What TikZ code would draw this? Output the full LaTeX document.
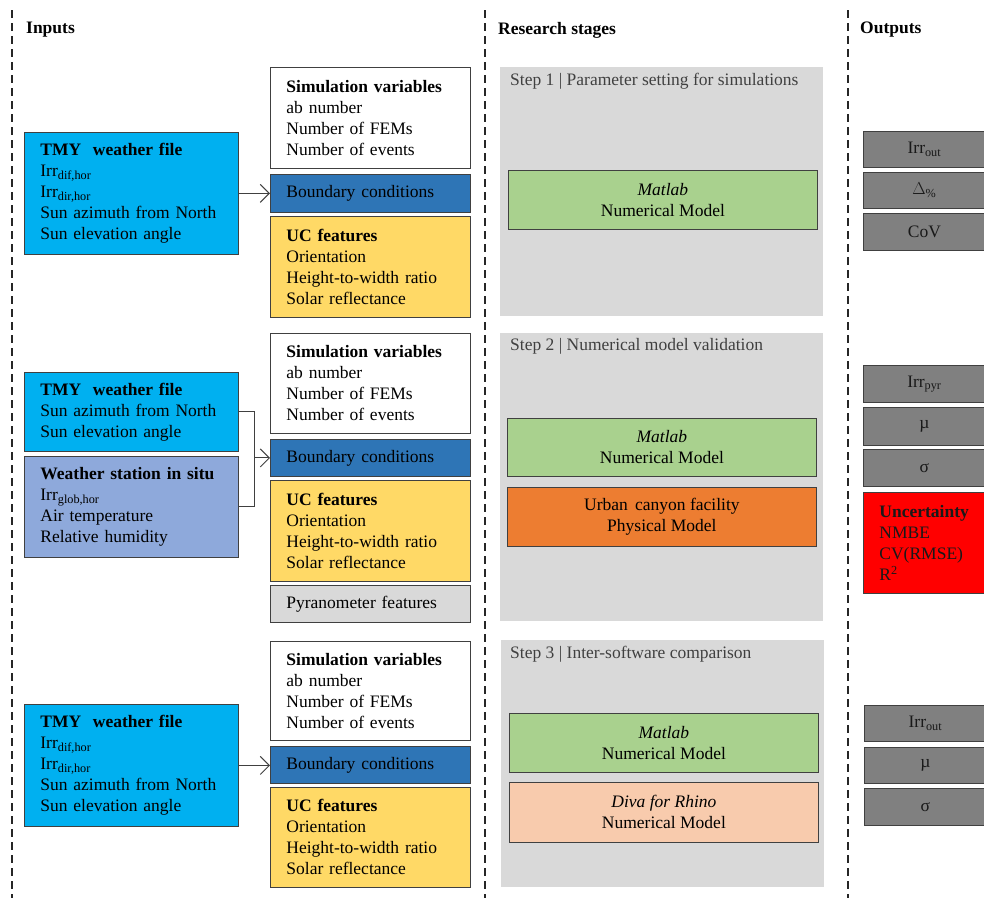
\documentclass[tikz,border=0pt]{standalone}
\usepackage{fontspec}
\setmainfont{Liberation Serif}
\usetikzlibrary{arrows.meta}
\definecolor{bordc}{HTML}{404040}
\definecolor{cyanbox}{HTML}{00B0F0}
\definecolor{bluebox}{HTML}{2E75B6}
\definecolor{yellowbox}{HTML}{FFD966}
\definecolor{lgray}{HTML}{D9D9D9}
\definecolor{wsblue}{HTML}{8EA9DB}
\definecolor{greenbox}{HTML}{A9D18E}
\definecolor{orangebox}{HTML}{ED7D31}
\definecolor{peachbox}{HTML}{F8CBAD}
\definecolor{outgray}{HTML}{808080}
\definecolor{redbox}{HTML}{FF0000}
\definecolor{steptext}{HTML}{404040}
\begin{document}
\begin{tikzpicture}[x=1pt,y=-1pt,
  every node/.style={font=\fontsize{17.5}{21}\selectfont},
  sep/.style={line width=2pt, dash pattern=on 8pt off 5pt, black!85},
  hdr/.style={anchor=west, inner sep=0pt, font=\fontsize{17.5}{21}\selectfont\bfseries},
  lbox/.style={draw=bordc, line width=0.8pt, anchor=north west, inner xsep=16pt, inner ysep=0pt, align=left, text width=168pt, minimum width=200pt},
  wbox/.style={lbox, text width=182pt, minimum width=214pt},
  stepbg/.style={fill=lgray, draw=none, anchor=north west, minimum width=323pt, inner sep=0pt},
  steplbl/.style={anchor=west, inner sep=0pt, text=steptext},
  cbox/.style={draw=bordc, line width=0.8pt, anchor=north west, align=center, inner sep=0pt, minimum width=309pt},
  obox/.style={draw=bordc, line width=0.8pt, fill=outgray, anchor=north west, align=center, inner sep=0pt, minimum width=122pt, text=black!90},
  arr/.style={draw=bordc, line width=0.9pt, -{Straight Barb[length=9pt,width=18pt,line width=1pt]}},
  conn/.style={draw=bordc, line width=0.9pt}
]
\useasboundingbox (0,0) rectangle (984,898);
\clip (0,0) rectangle (984,898);

% separators
\draw[sep] (12,10) -- (12,898);
\draw[sep] (485,10) -- (485,898);
\draw[sep] (848,10) -- (848,898);

% headers
\node[hdr] (hin) at (26,30) {Inputs};
\node[hdr] (hrs) at (498,30) {Research stages};
\node[hdr] (hout) at (860,30) {Outputs};

% ===== Section 1 =====
\node[wbox, fill=cyanbox, minimum height=122pt] (tmy1) at (24,132) {\textbf{TMY\,\, weather file}\\Irr\textsubscript{dif,hor}\\Irr\textsubscript{dir,hor}\\Sun azimuth from North\\Sun elevation angle};
\node[lbox, fill=white, minimum height=101pt] (sv1) at (270,67) {\textbf{Simulation variables}\\ab number\\Number of FEMs\\Number of events};
\node[lbox, fill=bluebox, minimum height=38pt] (bc1) at (270,174) {Boundary conditions};
\node[lbox, fill=yellowbox, minimum height=101pt] (uc1) at (270,216) {\textbf{UC features}\\Orientation\\Height-to-width ratio\\Solar reflectance};
\draw[arr] (tmy1.east) -- (tmy1.east -| bc1.west);

\node[stepbg, minimum height=249pt] (st1) at (500,67) {};
\node[steplbl] (st1l) at (510,81) {Step 1 | Parameter setting for simulations};
\node[cbox, fill=greenbox, minimum height=59pt] (ml1) at (508,170) {\textit{Matlab}\\Numerical Model};

\node[obox, minimum height=36pt] (o11) at (863,131) {Irr\textsubscript{out}};
\node[obox, minimum height=36pt] (o12) at (863,172) {$\Delta$\textsubscript{\%}};
\node[obox, minimum height=37pt] (o13) at (863,213) {CoV};

% ===== Section 2 =====
\node[wbox, fill=cyanbox, minimum height=79pt] (tmy2) at (24,372) {\textbf{TMY\,\, weather file}\\Sun azimuth from North\\Sun elevation angle};
\node[wbox, fill=wsblue, minimum height=101pt] (ws2) at (24,456) {\textbf{Weather station in situ}\\Irr\textsubscript{glob,hor}\\Air temperature\\Relative humidity};
\node[lbox, fill=white, minimum height=100pt] (sv2) at (270,333) {\textbf{Simulation variables}\\ab number\\Number of FEMs\\Number of events};
\node[lbox, fill=bluebox, minimum height=37pt] (bc2) at (270,439) {Boundary conditions};
\node[lbox, fill=yellowbox, minimum height=101pt] (uc2) at (270,480) {\textbf{UC features}\\Orientation\\Height-to-width ratio\\Solar reflectance};
\node[lbox, fill=lgray, minimum height=37pt] (py2) at (270,585) {Pyranometer features};
\coordinate (brk) at (254,0);
\draw[conn] (tmy2.east) -- (tmy2.east -| brk) -- (ws2.east -| brk) -- (ws2.east);
\draw[arr] (bc2.west -| brk) -- (bc2.west);

\node[stepbg, minimum height=288pt] (st2) at (500,333) {};
\node[steplbl] (st2l) at (510,346) {Step 2 | Numerical model validation};
\node[cbox, fill=greenbox, minimum height=58pt] (ml2) at (507,418) {\textit{Matlab}\\Numerical Model};
\node[cbox, fill=orangebox, minimum height=59pt] (pm2) at (507,487) {Urban\, canyon facility\\Physical Model};

\node[obox, minimum height=37pt] (o21) at (863,365) {Irr\textsubscript{pyr}};
\node[obox, minimum height=38pt] (o22) at (863,407) {µ};
\node[obox, minimum height=37pt] (o23) at (863,449) {σ};
\node[obox, fill=redbox, minimum height=101pt, align=left, inner xsep=16pt, text width=110pt] (o24) at (863,492) {\textbf{Uncertainty}\\NMBE\\CV(RMSE)\\R\textsuperscript{2}};

% ===== Section 3 =====
\node[wbox, fill=cyanbox, minimum height=122pt] (tmy3) at (24,704) {\textbf{TMY\,\, weather file}\\Irr\textsubscript{dif,hor}\\Irr\textsubscript{dir,hor}\\Sun azimuth from North\\Sun elevation angle};
\node[lbox, fill=white, minimum height=99pt] (sv3) at (270,641) {\textbf{Simulation variables}\\ab number\\Number of FEMs\\Number of events};
\node[lbox, fill=bluebox, minimum height=37pt] (bc3) at (270,746) {Boundary conditions};
\node[lbox, fill=yellowbox, minimum height=100pt] (uc3) at (270,787) {\textbf{UC features}\\Orientation\\Height-to-width ratio\\Solar reflectance};
\draw[arr] (tmy3.east) -- (tmy3.east -| bc3.west);

\node[stepbg, minimum height=247pt] (st3) at (501,640) {};
\node[steplbl] (st3l) at (510,654) {Step 3 | Inter-software comparison};
\node[cbox, fill=greenbox, minimum height=59pt] (ml3) at (509,713) {\textit{Matlab}\\Numerical Model};
\node[cbox, fill=peachbox, minimum height=60pt] (dv3) at (509,782) {\textit{Diva for Rhino}\\Numerical Model};

\node[obox, minimum height=36pt] (o31) at (864,705) {Irr\textsubscript{out}};
\node[obox, minimum height=36pt] (o32) at (864,747) {µ};
\node[obox, minimum height=37pt] (o33) at (864,788) {σ};
\end{tikzpicture}
\end{document}
